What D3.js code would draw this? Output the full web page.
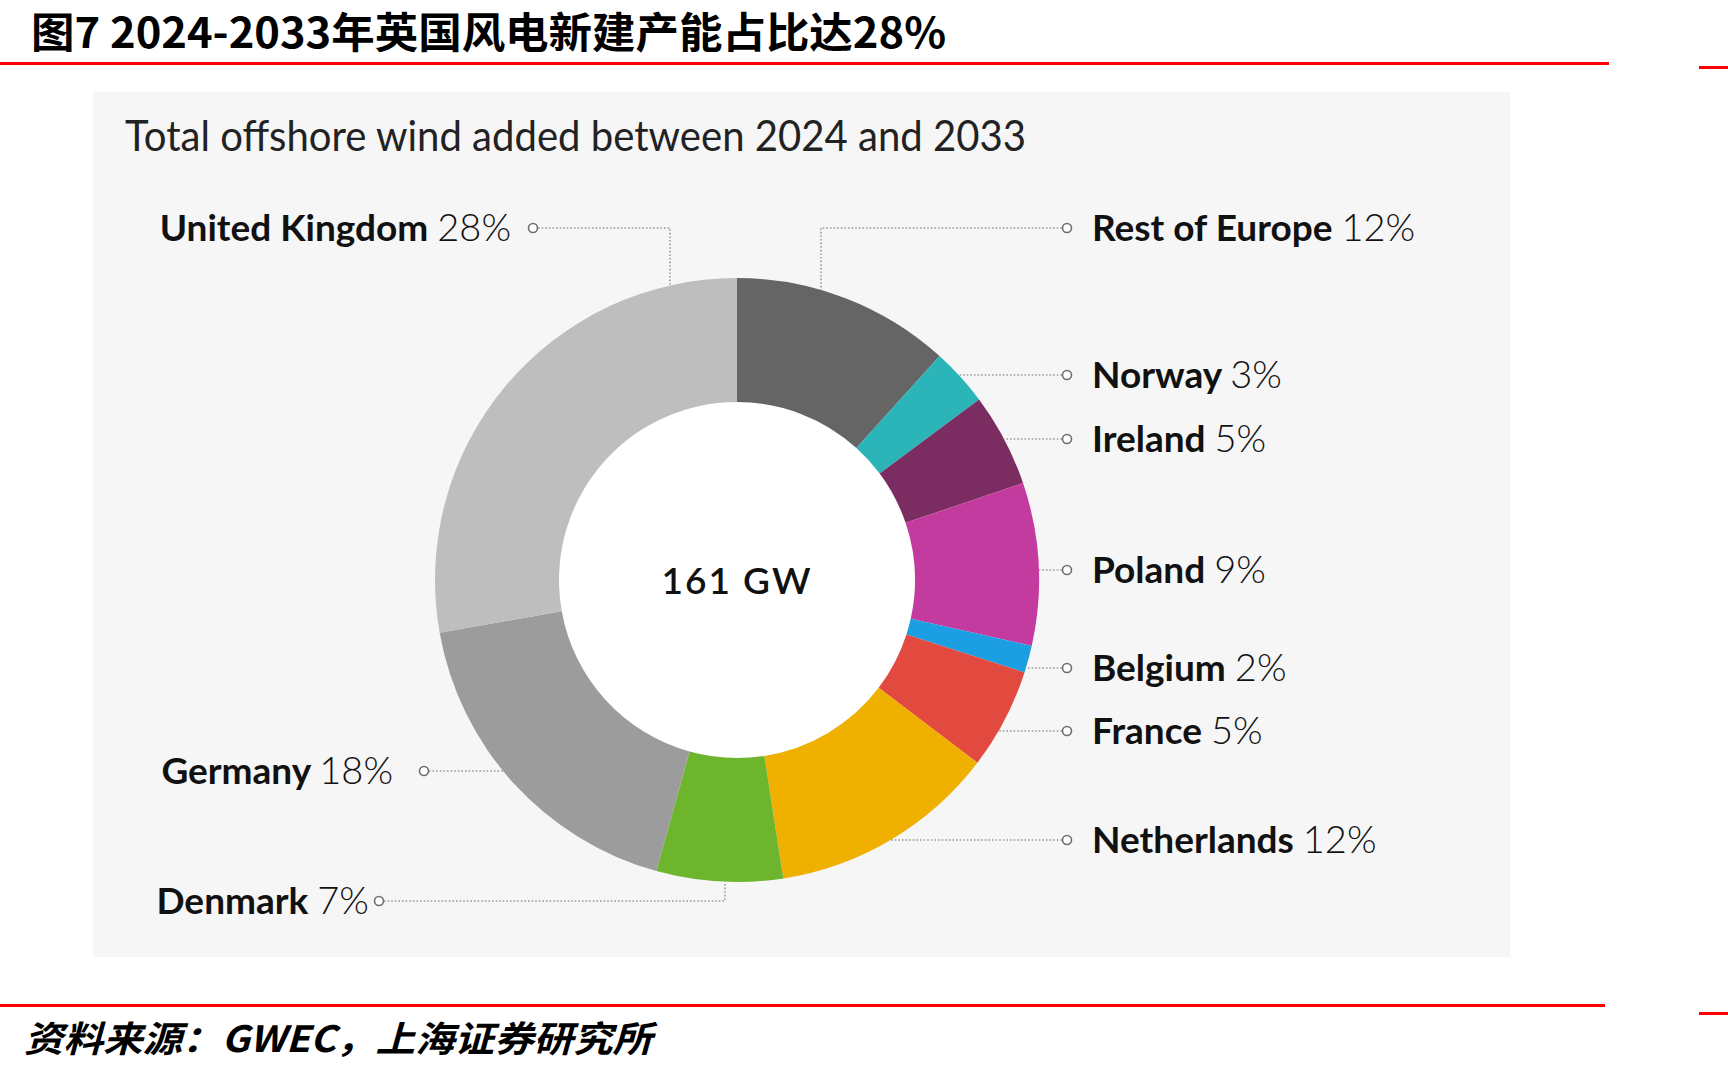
<!DOCTYPE html>
<html>
<head>
<meta charset="utf-8">
<script src="https://cdn.jsdelivr.net/npm/d3@7"></script>
<style>
  body { margin: 0; background: #fff; }
  svg { display: block; }
</style>
</head>
<body>
<div id="chart"></div>
<script>
// data
const countries = ["Rest of Europe", "Norway", "Ireland", "Poland", "Belgium",
                   "France", "Netherlands", "Denmark", "Germany", "United Kingdom"];
const shares = [11.7, 3.1, 5.0, 8.7, 1.45, 5.4, 12.2, 6.75, 17.9, 27.8];
const pctLabels = ["12%", "3%", "5%", "9%", "2%", "5%", "12%", "7%", "18%", "28%"];
const colors = ["#656565", "#2bb5b8", "#7b2d62", "#c43b9f", "#1c9fe2",
                "#e2493f", "#efb000", "#6cb52d", "#9c9c9c", "#bebebe"];
const totalText = "161 GW";
const titleText = "图7 2024-2033年英国风电新建产能占比达28%";
const subtitleText = "Total offshore wind added between 2024 and 2033";
const sourceText = "资料来源：GWEC，上海证券研究所";

const width = 1728, height = 1074;
const cx = 737, cy = 580, outerR = 302, innerR = 178;

// label layout: side, marker y, optional elbow x, text gap
const labelLayout = {
    "United Kingdom": { side: "left", y: 228, mx: 533, elbow: 670, gap: 22 },
    "Rest of Europe": { side: "right", y: 228, elbow: 821 },
    "Norway": { side: "right", y: 375 },
    "Ireland": { side: "right", y: 439 },
    "Poland": { side: "right", y: 570 },
    "Belgium": { side: "right", y: 668 },
    "France": { side: "right", y: 731 },
    "Netherlands": { side: "right", y: 840 },
    "Germany": { side: "left", y: 771, mx: 424, gap: 31 },
    "Denmark": { side: "left", y: 901, mx: 379, elbow: 725, gap: 10 }
};
const rightMx = 1067;

const data = countries.map((c, i) => ({ name: c, share: shares[i], pct: pctLabels[i], color: colors[i] }));

const svg = d3.select("#chart").append("svg")
    .attr("width", width)
    .attr("height", height);

// header / footer rules
svg.append("rect").attr("x", 0).attr("y", 62).attr("width", 1609).attr("height", 3).attr("fill", "#ff0000");
svg.append("rect").attr("x", 1699).attr("y", 66).attr("width", 29).attr("height", 3).attr("fill", "#ff0000");
svg.append("rect").attr("x", 0).attr("y", 1004).attr("width", 1605).attr("height", 3).attr("fill", "#ff0000");
svg.append("rect").attr("x", 1699).attr("y", 1012).attr("width", 29).attr("height", 3).attr("fill", "#ff0000");

svg.append("text")
    .attr("x", 31)
    .attr("y", 48)
    .attr("font-family", "'Noto Sans CJK SC', sans-serif")
    .attr("font-weight", 700)
    .attr("font-size", 42)
    .attr("textLength", 915)
    .attr("lengthAdjust", "spacingAndGlyphs")
    .attr("fill", "#000")
    .text(titleText);

svg.append("text")
    .attr("x", 24)
    .attr("y", 1052)
    .attr("font-family", "'Noto Sans CJK SC', sans-serif")
    .attr("font-weight", 700)
    .attr("font-style", "italic")
    .attr("font-size", 36)
    .attr("textLength", 628)
    .attr("lengthAdjust", "spacingAndGlyphs")
    .attr("fill", "#000")
    .text(sourceText);

// chart panel
svg.append("rect")
    .attr("x", 93).attr("y", 92)
    .attr("width", 1417).attr("height", 865)
    .attr("fill", "#f6f6f6");

svg.append("text")
    .attr("x", 125)
    .attr("y", 151)
    .attr("font-family", "Lato, sans-serif")
    .attr("font-weight", 400)
    .attr("font-size", 42)
    .attr("textLength", 901)
    .attr("lengthAdjust", "spacingAndGlyphs")
    .attr("fill", "#222")
    .text(subtitleText);

// donut
const pie = d3.pie().sort(null).value(d => d.share);
const arc = d3.arc().innerRadius(innerR).outerRadius(outerR);

const g = svg.append("g").attr("transform", `translate(${cx},${cy})`);

g.append("circle").attr("r", innerR).attr("fill", "#fff");

g.selectAll("path.slice")
    .data(pie(data))
    .join("path")
    .attr("class", "slice")
    .attr("d", arc)
    .attr("fill", d => d.data.color);

g.append("text")
    .attr("y", 14)
    .attr("text-anchor", "middle")
    .attr("font-family", "Lato, sans-serif")
    .attr("font-weight", 600)
    .attr("font-size", 37)
    .attr("letter-spacing", 2)
    .attr("fill", "#111")
    .text(totalText);

// leaders and labels
const leaders = svg.append("g")
    .attr("fill", "none")
    .attr("stroke", "#9a9a9a")
    .attr("stroke-width", 1.6)
    .attr("stroke-dasharray", "1.6,2");

const labels = svg.append("g");

data.forEach(d => {
    const L = labelLayout[d.name];
    const mx = L.side === "right" ? rightMx : L.mx;
    const my = L.y;
    let pts;
    if (L.elbow !== undefined) {
        const dx = L.elbow - cx;
        const off = Math.sqrt(outerR * outerR - dx * dx);
        const ey = my < cy ? cy - off : cy + off;
        const sx = L.side === "right" ? mx - 5 : mx + 5;
        pts = [[sx, my], [L.elbow, my], [L.elbow, ey]];
    } else {
        const dy = my - cy;
        const off = Math.sqrt(outerR * outerR - dy * dy);
        const ex = L.side === "right" ? cx + off : cx - off;
        const sx = L.side === "right" ? mx - 5 : mx + 5;
        pts = [[sx, my], [ex, my]];
    }
    leaders.append("path").attr("d", d3.line()(pts));

    labels.append("circle")
        .attr("cx", mx).attr("cy", my).attr("r", 4.5)
        .attr("fill", "#fff")
        .attr("stroke", "#6e6e6e")
        .attr("stroke-width", 1.6);

    const t = labels.append("text")
        .attr("x", L.side === "right" ? mx + 25 : mx - L.gap)
        .attr("y", my + 13)
        .attr("text-anchor", L.side === "right" ? "start" : "end")
        .attr("font-family", "Lato, sans-serif")
        .attr("font-size", 37)
        .attr("fill", "#111");
    t.append("tspan").attr("font-weight", 700).text(d.name + " ");
    t.append("tspan").attr("font-weight", 300).attr("font-size", 38).text(d.pct);
});
</script>
</body>
</html>
